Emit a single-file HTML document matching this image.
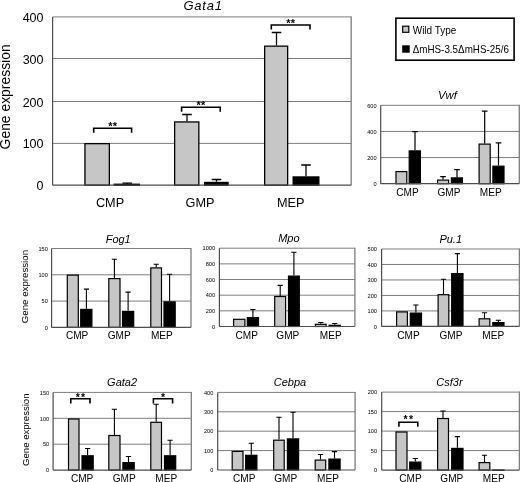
<!DOCTYPE html>
<html><head><meta charset="utf-8"><title>Gene expression</title>
<style>
html,body{margin:0;padding:0;background:#fff;}
body{width:520px;height:482px;overflow:hidden;}
svg{display:block;will-change:transform;font-family:'Liberation Sans', sans-serif;fill:#000;}
</style></head><body>
<svg width="520" height="482" viewBox="0 0 520 482">
<rect width="520" height="482" fill="#fff"/>
<line x1="52.6" y1="16.90" x2="351.2" y2="16.90" stroke="#7d7d7d" stroke-width="1"/>
<text x="43.5" y="21.90" font-size="12.5" text-anchor="end">400</text>
<line x1="52.6" y1="58.50" x2="351.2" y2="58.50" stroke="#7d7d7d" stroke-width="1"/>
<text x="43.5" y="63.50" font-size="12.5" text-anchor="end">300</text>
<line x1="52.6" y1="101.50" x2="351.2" y2="101.50" stroke="#7d7d7d" stroke-width="1"/>
<text x="43.5" y="106.50" font-size="12.5" text-anchor="end">200</text>
<line x1="52.6" y1="143.40" x2="351.2" y2="143.40" stroke="#7d7d7d" stroke-width="1"/>
<text x="43.5" y="148.40" font-size="12.5" text-anchor="end">100</text>
<text x="43.5" y="190.30" font-size="12.5" text-anchor="end">0</text>
<line x1="351.2" y1="16.5" x2="351.2" y2="185.2" stroke="#7d7d7d" stroke-width="1.3"/>
<rect x="84.95" y="143.65" width="24.40" height="41.55" fill="#c6c6c6" stroke="#000" stroke-width="1.3"/>
<rect x="114.25" y="184.25" width="25.10" height="0.95" fill="#000" stroke="#000" stroke-width="1.3"/>
<rect x="174.65" y="121.95" width="24.20" height="63.25" fill="#c6c6c6" stroke="#000" stroke-width="1.3"/>
<rect x="204.65" y="182.45" width="23.40" height="2.75" fill="#000" stroke="#000" stroke-width="1.3"/>
<rect x="264.65" y="46.15" width="23.00" height="139.05" fill="#c6c6c6" stroke="#000" stroke-width="1.3"/>
<rect x="293.15" y="176.95" width="25.70" height="8.25" fill="#000" stroke="#000" stroke-width="1.3"/>
<path d="M127.30 184.00V183.20M122.50 183.20H132.10" stroke="#000" stroke-width="1.3" fill="none"/>
<path d="M187.00 121.30V114.50M182.20 114.50H191.80" stroke="#000" stroke-width="1.3" fill="none"/>
<path d="M216.50 181.80V179.50M211.70 179.50H221.30" stroke="#000" stroke-width="1.3" fill="none"/>
<path d="M276.50 45.50V32.50M271.70 32.50H281.30" stroke="#000" stroke-width="1.3" fill="none"/>
<path d="M306.00 176.30V165.00M301.20 165.00H310.80" stroke="#000" stroke-width="1.3" fill="none"/>
<line x1="52.6" y1="17" x2="52.6" y2="185.2" stroke="#4d4d4d" stroke-width="1.2"/>
<line x1="52.6" y1="185.2" x2="351.2" y2="185.2" stroke="#4d4d4d" stroke-width="1.2"/>
<text x="203.1" y="9.7" font-size="13" font-style="italic" text-anchor="middle" letter-spacing="0.8">Gata1</text>
<text transform="translate(110,207) scale(1,1.03)" font-size="12.7" text-anchor="middle">CMP</text>
<text transform="translate(200,207) scale(1,1.03)" font-size="12.7" text-anchor="middle">GMP</text>
<text transform="translate(290.8,207) scale(1,1.03)" font-size="12.7" text-anchor="middle">MEP</text>
<path d="M93.70 132.80V128.30H131.60V132.80" stroke="#000" stroke-width="1.6" fill="none"/>
<text x="112.65" y="130.30" font-size="11" font-weight="bold" text-anchor="middle" letter-spacing="0">**</text>
<path d="M181.60 111.80V107.30H220.20V111.80" stroke="#000" stroke-width="1.6" fill="none"/>
<text x="200.90" y="109.30" font-size="11" font-weight="bold" text-anchor="middle" letter-spacing="0">**</text>
<path d="M271.30 29.50V25.00H310.00V29.50" stroke="#000" stroke-width="1.6" fill="none"/>
<text x="290.65" y="27.00" font-size="11" font-weight="bold" text-anchor="middle" letter-spacing="0">**</text>
<text transform="translate(10,149.4) rotate(-90)" font-size="13.9">Gene expression</text>
<rect x="395.9" y="18.2" width="118.2" height="42" fill="#fff" stroke="#000" stroke-width="1.6"/>
<rect x="402.7" y="26.2" width="6.1" height="6.1" fill="#c6c6c6" stroke="#000" stroke-width="1.2"/>
<rect x="402.2" y="45.3" width="7.5" height="7.4" fill="#000"/>
<text transform="translate(412.7,33.6) scale(1,1.12)" font-size="10">Wild Type</text>
<text transform="translate(412.7,53.0) scale(1,1.12)" font-size="10" textLength="96.2" lengthAdjust="spacingAndGlyphs">ΔmHS-3.5ΔmHS-25/6</text>
<line x1="380.7" y1="105.30" x2="519.3" y2="105.30" stroke="#7d7d7d" stroke-width="1"/>
<text x="376.6" y="107.54" font-size="5.6" text-anchor="end">600</text>
<line x1="380.7" y1="131.43" x2="519.3" y2="131.43" stroke="#7d7d7d" stroke-width="1"/>
<text x="376.6" y="133.67" font-size="5.6" text-anchor="end">400</text>
<line x1="380.7" y1="157.57" x2="519.3" y2="157.57" stroke="#7d7d7d" stroke-width="1"/>
<text x="376.6" y="159.81" font-size="5.6" text-anchor="end">200</text>
<text x="376.6" y="185.94" font-size="5.6" text-anchor="end">0</text>
<line x1="519.3" y1="104.8" x2="519.3" y2="183.7" stroke="#7d7d7d" stroke-width="1.3"/>
<rect x="396.00" y="171.60" width="10.80" height="12.10" fill="#c6c6c6" stroke="#000" stroke-width="1.2"/>
<rect x="409.20" y="150.90" width="11.20" height="32.80" fill="#000" stroke="#000" stroke-width="1.2"/>
<rect x="437.60" y="180.10" width="11.00" height="3.60" fill="#c6c6c6" stroke="#000" stroke-width="1.2"/>
<rect x="451.40" y="177.90" width="11.00" height="5.80" fill="#000" stroke="#000" stroke-width="1.2"/>
<rect x="479.10" y="144.10" width="11.10" height="39.60" fill="#c6c6c6" stroke="#000" stroke-width="1.2"/>
<rect x="492.90" y="166.20" width="11.10" height="17.50" fill="#000" stroke="#000" stroke-width="1.2"/>
<path d="M415.00 150.30V131.60M412.20 131.60H417.80" stroke="#000" stroke-width="1.2" fill="none"/>
<path d="M443.00 179.50V176.70M440.20 176.70H445.80" stroke="#000" stroke-width="1.2" fill="none"/>
<path d="M457.00 177.30V169.60M454.20 169.60H459.80" stroke="#000" stroke-width="1.2" fill="none"/>
<path d="M484.70 143.50V111.20M481.90 111.20H487.50" stroke="#000" stroke-width="1.2" fill="none"/>
<path d="M498.50 165.60V142.80M495.70 142.80H501.30" stroke="#000" stroke-width="1.2" fill="none"/>
<line x1="380.7" y1="105.3" x2="380.7" y2="183.7" stroke="#4d4d4d" stroke-width="1.2"/>
<line x1="380.7" y1="183.7" x2="519.3" y2="183.7" stroke="#4d4d4d" stroke-width="1.2"/>
<text x="447.5" y="98.8" font-size="11.3" font-style="italic" text-anchor="middle" letter-spacing="0">Vwf</text>
<text transform="translate(407.5,195.8) scale(1,1.13)" font-size="10.1" text-anchor="middle">CMP</text>
<text transform="translate(449,195.8) scale(1,1.13)" font-size="10.1" text-anchor="middle">GMP</text>
<text transform="translate(490.8,195.8) scale(1,1.13)" font-size="10.1" text-anchor="middle">MEP</text>
<line x1="51.6" y1="248.50" x2="191.0" y2="248.50" stroke="#7d7d7d" stroke-width="1"/>
<text x="47.800000000000004" y="250.74" font-size="5.6" text-anchor="end">150</text>
<line x1="51.6" y1="274.80" x2="191.0" y2="274.80" stroke="#7d7d7d" stroke-width="1"/>
<text x="47.800000000000004" y="277.04" font-size="5.6" text-anchor="end">100</text>
<line x1="51.6" y1="301.10" x2="191.0" y2="301.10" stroke="#7d7d7d" stroke-width="1"/>
<text x="47.800000000000004" y="303.34" font-size="5.6" text-anchor="end">50</text>
<text x="47.800000000000004" y="329.64" font-size="5.6" text-anchor="end">0</text>
<line x1="191.0" y1="248.0" x2="191.0" y2="327.4" stroke="#7d7d7d" stroke-width="1.3"/>
<rect x="67.30" y="275.10" width="11.00" height="52.30" fill="#c6c6c6" stroke="#000" stroke-width="1.2"/>
<rect x="80.70" y="309.40" width="11.20" height="18.00" fill="#000" stroke="#000" stroke-width="1.2"/>
<rect x="108.80" y="278.60" width="11.20" height="48.80" fill="#c6c6c6" stroke="#000" stroke-width="1.2"/>
<rect x="122.50" y="311.40" width="11.20" height="16.00" fill="#000" stroke="#000" stroke-width="1.2"/>
<rect x="150.80" y="267.90" width="10.70" height="59.50" fill="#c6c6c6" stroke="#000" stroke-width="1.2"/>
<rect x="164.00" y="301.90" width="11.20" height="25.50" fill="#000" stroke="#000" stroke-width="1.2"/>
<path d="M86.40 308.80V289.10M83.80 289.10H89.00" stroke="#000" stroke-width="1.1" fill="none"/>
<path d="M114.40 278.00V259.30M111.80 259.30H117.00" stroke="#000" stroke-width="1.1" fill="none"/>
<path d="M128.10 310.80V292.10M125.50 292.10H130.70" stroke="#000" stroke-width="1.1" fill="none"/>
<path d="M156.20 267.30V264.30M153.60 264.30H158.80" stroke="#000" stroke-width="1.1" fill="none"/>
<path d="M169.60 301.30V274.20M167.00 274.20H172.20" stroke="#000" stroke-width="1.1" fill="none"/>
<line x1="51.6" y1="248.5" x2="51.6" y2="327.4" stroke="#4d4d4d" stroke-width="1.2"/>
<line x1="51.6" y1="327.4" x2="191.0" y2="327.4" stroke="#4d4d4d" stroke-width="1.2"/>
<text x="118.2" y="242.9" font-size="11.0" font-style="italic" text-anchor="middle" letter-spacing="0">Fog1</text>
<text transform="translate(77.1,339.0) scale(1,1.13)" font-size="10.1" text-anchor="middle">CMP</text>
<text transform="translate(119.2,339.0) scale(1,1.13)" font-size="10.1" text-anchor="middle">GMP</text>
<text transform="translate(161.9,339.0) scale(1,1.13)" font-size="10.1" text-anchor="middle">MEP</text>
<text transform="translate(28.2,323.2) rotate(-90)" font-size="9.7">Gene expression</text>
<line x1="219.4" y1="248.20" x2="354.9" y2="248.20" stroke="#7d7d7d" stroke-width="1"/>
<text x="215.0" y="250.44" font-size="5.6" text-anchor="end">1000</text>
<line x1="219.4" y1="263.86" x2="354.9" y2="263.86" stroke="#7d7d7d" stroke-width="1"/>
<text x="215.0" y="266.10" font-size="5.6" text-anchor="end">800</text>
<line x1="219.4" y1="279.52" x2="354.9" y2="279.52" stroke="#7d7d7d" stroke-width="1"/>
<text x="215.0" y="281.76" font-size="5.6" text-anchor="end">600</text>
<line x1="219.4" y1="295.18" x2="354.9" y2="295.18" stroke="#7d7d7d" stroke-width="1"/>
<text x="215.0" y="297.42" font-size="5.6" text-anchor="end">400</text>
<line x1="219.4" y1="310.84" x2="354.9" y2="310.84" stroke="#7d7d7d" stroke-width="1"/>
<text x="215.0" y="313.08" font-size="5.6" text-anchor="end">200</text>
<text x="215.0" y="328.74" font-size="5.6" text-anchor="end">0</text>
<line x1="354.9" y1="247.7" x2="354.9" y2="326.5" stroke="#7d7d7d" stroke-width="1.3"/>
<rect x="233.60" y="319.30" width="11.30" height="7.20" fill="#c6c6c6" stroke="#000" stroke-width="1.2"/>
<rect x="247.30" y="317.60" width="11.20" height="8.90" fill="#000" stroke="#000" stroke-width="1.2"/>
<rect x="274.70" y="296.50" width="10.90" height="30.00" fill="#c6c6c6" stroke="#000" stroke-width="1.2"/>
<rect x="288.50" y="276.10" width="10.80" height="50.40" fill="#000" stroke="#000" stroke-width="1.2"/>
<rect x="315.40" y="324.30" width="10.70" height="2.20" fill="#c6c6c6" stroke="#000" stroke-width="1.2"/>
<rect x="329.10" y="325.30" width="11.20" height="1.20" fill="#000" stroke="#000" stroke-width="1.2"/>
<path d="M252.90 317.00V309.50M250.30 309.50H255.50" stroke="#000" stroke-width="1.1" fill="none"/>
<path d="M280.20 295.90V285.40M277.60 285.40H282.80" stroke="#000" stroke-width="1.1" fill="none"/>
<path d="M293.90 275.50V252.30M291.30 252.30H296.50" stroke="#000" stroke-width="1.1" fill="none"/>
<path d="M320.80 323.70V322.50M318.20 322.50H323.40" stroke="#000" stroke-width="1.1" fill="none"/>
<path d="M334.70 324.70V323.50M332.10 323.50H337.30" stroke="#000" stroke-width="1.1" fill="none"/>
<line x1="219.4" y1="248.2" x2="219.4" y2="326.5" stroke="#4d4d4d" stroke-width="1.2"/>
<line x1="219.4" y1="326.5" x2="354.9" y2="326.5" stroke="#4d4d4d" stroke-width="1.2"/>
<text x="288.9" y="241.9" font-size="11.0" font-style="italic" text-anchor="middle" letter-spacing="0">Mpo</text>
<text transform="translate(246.7,339.0) scale(1,1.13)" font-size="10.1" text-anchor="middle">CMP</text>
<text transform="translate(287.8,339.0) scale(1,1.13)" font-size="10.1" text-anchor="middle">GMP</text>
<text transform="translate(330.7,339.0) scale(1,1.13)" font-size="10.1" text-anchor="middle">MEP</text>
<line x1="381.6" y1="249.00" x2="519.4" y2="249.00" stroke="#7d7d7d" stroke-width="1"/>
<text x="376.90000000000003" y="251.24" font-size="5.6" text-anchor="end">500</text>
<line x1="381.6" y1="264.48" x2="519.4" y2="264.48" stroke="#7d7d7d" stroke-width="1"/>
<text x="376.90000000000003" y="266.72" font-size="5.6" text-anchor="end">400</text>
<line x1="381.6" y1="279.96" x2="519.4" y2="279.96" stroke="#7d7d7d" stroke-width="1"/>
<text x="376.90000000000003" y="282.20" font-size="5.6" text-anchor="end">300</text>
<line x1="381.6" y1="295.44" x2="519.4" y2="295.44" stroke="#7d7d7d" stroke-width="1"/>
<text x="376.90000000000003" y="297.68" font-size="5.6" text-anchor="end">200</text>
<line x1="381.6" y1="310.92" x2="519.4" y2="310.92" stroke="#7d7d7d" stroke-width="1"/>
<text x="376.90000000000003" y="313.16" font-size="5.6" text-anchor="end">100</text>
<text x="376.90000000000003" y="328.64" font-size="5.6" text-anchor="end">0</text>
<line x1="519.4" y1="248.5" x2="519.4" y2="326.4" stroke="#7d7d7d" stroke-width="1.3"/>
<rect x="396.60" y="311.90" width="10.80" height="14.50" fill="#c6c6c6" stroke="#000" stroke-width="1.2"/>
<rect x="410.30" y="313.10" width="11.20" height="13.30" fill="#000" stroke="#000" stroke-width="1.2"/>
<rect x="438.10" y="294.70" width="10.70" height="31.70" fill="#c6c6c6" stroke="#000" stroke-width="1.2"/>
<rect x="451.70" y="273.60" width="11.30" height="52.80" fill="#000" stroke="#000" stroke-width="1.2"/>
<rect x="479.10" y="318.80" width="10.70" height="7.60" fill="#c6c6c6" stroke="#000" stroke-width="1.2"/>
<rect x="492.80" y="322.60" width="11.20" height="3.80" fill="#000" stroke="#000" stroke-width="1.2"/>
<path d="M415.90 312.50V305.00M413.30 305.00H418.50" stroke="#000" stroke-width="1.1" fill="none"/>
<path d="M443.50 294.10V279.20M440.90 279.20H446.10" stroke="#000" stroke-width="1.1" fill="none"/>
<path d="M457.40 273.00V253.60M454.80 253.60H460.00" stroke="#000" stroke-width="1.1" fill="none"/>
<path d="M484.50 318.20V312.80M481.90 312.80H487.10" stroke="#000" stroke-width="1.1" fill="none"/>
<path d="M498.40 322.00V320.20M495.80 320.20H501.00" stroke="#000" stroke-width="1.1" fill="none"/>
<line x1="381.6" y1="249.0" x2="381.6" y2="326.4" stroke="#4d4d4d" stroke-width="1.2"/>
<line x1="381.6" y1="326.4" x2="519.4" y2="326.4" stroke="#4d4d4d" stroke-width="1.2"/>
<text x="450.7" y="243.2" font-size="11.0" font-style="italic" text-anchor="middle" letter-spacing="0">Pu.1</text>
<text transform="translate(408.5,339.0) scale(1,1.13)" font-size="10.1" text-anchor="middle">CMP</text>
<text transform="translate(451,339.0) scale(1,1.13)" font-size="10.1" text-anchor="middle">GMP</text>
<text transform="translate(493.3,339.0) scale(1,1.13)" font-size="10.1" text-anchor="middle">MEP</text>
<line x1="53.1" y1="392.40" x2="191.3" y2="392.40" stroke="#7d7d7d" stroke-width="1"/>
<text x="49.2" y="394.64" font-size="5.6" text-anchor="end">150</text>
<line x1="53.1" y1="418.30" x2="191.3" y2="418.30" stroke="#7d7d7d" stroke-width="1"/>
<text x="49.2" y="420.54" font-size="5.6" text-anchor="end">100</text>
<line x1="53.1" y1="444.20" x2="191.3" y2="444.20" stroke="#7d7d7d" stroke-width="1"/>
<text x="49.2" y="446.44" font-size="5.6" text-anchor="end">50</text>
<text x="49.2" y="472.34" font-size="5.6" text-anchor="end">0</text>
<line x1="191.3" y1="391.9" x2="191.3" y2="470.1" stroke="#7d7d7d" stroke-width="1.3"/>
<rect x="68.50" y="419.00" width="10.50" height="51.10" fill="#c6c6c6" stroke="#000" stroke-width="1.2"/>
<rect x="82.00" y="455.80" width="11.20" height="14.30" fill="#000" stroke="#000" stroke-width="1.2"/>
<rect x="108.80" y="435.50" width="11.20" height="34.60" fill="#c6c6c6" stroke="#000" stroke-width="1.2"/>
<rect x="122.90" y="462.60" width="11.30" height="7.50" fill="#000" stroke="#000" stroke-width="1.2"/>
<rect x="150.80" y="422.30" width="10.70" height="47.80" fill="#c6c6c6" stroke="#000" stroke-width="1.2"/>
<rect x="164.50" y="455.80" width="11.20" height="14.30" fill="#000" stroke="#000" stroke-width="1.2"/>
<path d="M87.60 455.20V448.50M85.00 448.50H90.20" stroke="#000" stroke-width="1.1" fill="none"/>
<path d="M114.40 434.90V409.20M111.80 409.20H117.00" stroke="#000" stroke-width="1.1" fill="none"/>
<path d="M128.50 462.00V456.50M125.90 456.50H131.10" stroke="#000" stroke-width="1.1" fill="none"/>
<path d="M156.20 421.70V404.30M153.60 404.30H158.80" stroke="#000" stroke-width="1.1" fill="none"/>
<path d="M170.10 455.20V440.30M167.50 440.30H172.70" stroke="#000" stroke-width="1.1" fill="none"/>
<line x1="53.1" y1="392.4" x2="53.1" y2="470.1" stroke="#4d4d4d" stroke-width="1.2"/>
<line x1="53.1" y1="470.1" x2="191.3" y2="470.1" stroke="#4d4d4d" stroke-width="1.2"/>
<text x="122.1" y="386.4" font-size="11.0" font-style="italic" text-anchor="middle" letter-spacing="0">Gata2</text>
<text transform="translate(82.1,482.1) scale(1,1.13)" font-size="10.1" text-anchor="middle">CMP</text>
<text transform="translate(124.2,482.1) scale(1,1.13)" font-size="10.1" text-anchor="middle">GMP</text>
<text transform="translate(166.2,482.1) scale(1,1.13)" font-size="10.1" text-anchor="middle">MEP</text>
<path d="M70.80 403.40V398.80H90.00V403.40" stroke="#000" stroke-width="1.6" fill="none"/>
<text x="81.05" y="400.90" font-size="10.5" font-weight="bold" text-anchor="middle" letter-spacing="1.3">**</text>
<path d="M153.40 403.40V398.80H172.60V403.40" stroke="#000" stroke-width="1.6" fill="none"/>
<text x="163.00" y="400.90" font-size="10.5" font-weight="bold" text-anchor="middle" letter-spacing="0">*</text>
<text transform="translate(29,466) rotate(-90)" font-size="9.6">Gene expression</text>
<line x1="217.7" y1="392.40" x2="355.1" y2="392.40" stroke="#7d7d7d" stroke-width="1"/>
<text x="213.29999999999998" y="394.64" font-size="5.6" text-anchor="end">400</text>
<line x1="217.7" y1="411.80" x2="355.1" y2="411.80" stroke="#7d7d7d" stroke-width="1"/>
<text x="213.29999999999998" y="414.04" font-size="5.6" text-anchor="end">300</text>
<line x1="217.7" y1="431.20" x2="355.1" y2="431.20" stroke="#7d7d7d" stroke-width="1"/>
<text x="213.29999999999998" y="433.44" font-size="5.6" text-anchor="end">200</text>
<line x1="217.7" y1="450.60" x2="355.1" y2="450.60" stroke="#7d7d7d" stroke-width="1"/>
<text x="213.29999999999998" y="452.84" font-size="5.6" text-anchor="end">100</text>
<text x="213.29999999999998" y="472.24" font-size="5.6" text-anchor="end">0</text>
<line x1="355.1" y1="391.9" x2="355.1" y2="470.0" stroke="#7d7d7d" stroke-width="1.3"/>
<rect x="232.20" y="451.40" width="10.80" height="18.60" fill="#c6c6c6" stroke="#000" stroke-width="1.2"/>
<rect x="245.70" y="455.30" width="11.20" height="14.70" fill="#000" stroke="#000" stroke-width="1.2"/>
<rect x="273.70" y="440.20" width="10.50" height="29.80" fill="#c6c6c6" stroke="#000" stroke-width="1.2"/>
<rect x="287.40" y="438.90" width="11.20" height="31.10" fill="#000" stroke="#000" stroke-width="1.2"/>
<rect x="315.20" y="460.10" width="10.50" height="9.90" fill="#c6c6c6" stroke="#000" stroke-width="1.2"/>
<rect x="328.90" y="459.10" width="11.20" height="10.90" fill="#000" stroke="#000" stroke-width="1.2"/>
<path d="M251.30 454.70V443.30M248.70 443.30H253.90" stroke="#000" stroke-width="1.1" fill="none"/>
<path d="M279.00 439.60V417.20M276.40 417.20H281.60" stroke="#000" stroke-width="1.1" fill="none"/>
<path d="M293.00 438.30V412.20M290.40 412.20H295.60" stroke="#000" stroke-width="1.1" fill="none"/>
<path d="M320.50 459.50V454.50M317.90 454.50H323.10" stroke="#000" stroke-width="1.1" fill="none"/>
<path d="M334.50 458.50V451.60M331.90 451.60H337.10" stroke="#000" stroke-width="1.1" fill="none"/>
<line x1="217.7" y1="392.4" x2="217.7" y2="470.0" stroke="#4d4d4d" stroke-width="1.2"/>
<line x1="217.7" y1="470.0" x2="355.1" y2="470.0" stroke="#4d4d4d" stroke-width="1.2"/>
<text x="290" y="386.1" font-size="11.0" font-style="italic" text-anchor="middle" letter-spacing="0">Cebpa</text>
<text transform="translate(244.3,482.1) scale(1,1.13)" font-size="10.1" text-anchor="middle">CMP</text>
<text transform="translate(285.7,482.1) scale(1,1.13)" font-size="10.1" text-anchor="middle">GMP</text>
<text transform="translate(328,482.1) scale(1,1.13)" font-size="10.1" text-anchor="middle">MEP</text>
<line x1="381.7" y1="392.10" x2="519.4" y2="392.10" stroke="#7d7d7d" stroke-width="1"/>
<text x="377.09999999999997" y="394.34" font-size="5.6" text-anchor="end">200</text>
<line x1="381.7" y1="411.60" x2="519.4" y2="411.60" stroke="#7d7d7d" stroke-width="1"/>
<text x="377.09999999999997" y="413.84" font-size="5.6" text-anchor="end">150</text>
<line x1="381.7" y1="431.10" x2="519.4" y2="431.10" stroke="#7d7d7d" stroke-width="1"/>
<text x="377.09999999999997" y="433.34" font-size="5.6" text-anchor="end">100</text>
<line x1="381.7" y1="450.60" x2="519.4" y2="450.60" stroke="#7d7d7d" stroke-width="1"/>
<text x="377.09999999999997" y="452.84" font-size="5.6" text-anchor="end">50</text>
<text x="377.09999999999997" y="472.34" font-size="5.6" text-anchor="end">0</text>
<line x1="519.4" y1="391.6" x2="519.4" y2="470.1" stroke="#7d7d7d" stroke-width="1.3"/>
<rect x="396.00" y="432.00" width="11.00" height="38.10" fill="#c6c6c6" stroke="#000" stroke-width="1.2"/>
<rect x="409.70" y="462.10" width="11.20" height="8.00" fill="#000" stroke="#000" stroke-width="1.2"/>
<rect x="437.60" y="418.50" width="10.90" height="51.60" fill="#c6c6c6" stroke="#000" stroke-width="1.2"/>
<rect x="451.70" y="448.40" width="11.30" height="21.70" fill="#000" stroke="#000" stroke-width="1.2"/>
<rect x="479.10" y="462.60" width="10.70" height="7.50" fill="#c6c6c6" stroke="#000" stroke-width="1.2"/>
<rect x="492.80" y="470.00" width="11.20" height="0.40" fill="#000" stroke="#000" stroke-width="1.2"/>
<path d="M415.30 461.50V458.50M412.70 458.50H417.90" stroke="#000" stroke-width="1.1" fill="none"/>
<path d="M443.00 417.90V411.00M440.40 411.00H445.60" stroke="#000" stroke-width="1.1" fill="none"/>
<path d="M457.40 447.80V436.60M454.80 436.60H460.00" stroke="#000" stroke-width="1.1" fill="none"/>
<path d="M484.50 462.00V455.20M481.90 455.20H487.10" stroke="#000" stroke-width="1.1" fill="none"/>
<line x1="381.7" y1="392.1" x2="381.7" y2="470.1" stroke="#4d4d4d" stroke-width="1.2"/>
<line x1="381.7" y1="470.1" x2="519.4" y2="470.1" stroke="#4d4d4d" stroke-width="1.2"/>
<text x="449.5" y="385.6" font-size="11.0" font-style="italic" text-anchor="middle" letter-spacing="0">Csf3r</text>
<text transform="translate(410.5,482.1) scale(1,1.13)" font-size="10.1" text-anchor="middle">CMP</text>
<text transform="translate(451.8,482.1) scale(1,1.13)" font-size="10.1" text-anchor="middle">GMP</text>
<text transform="translate(493.8,482.1) scale(1,1.13)" font-size="10.1" text-anchor="middle">MEP</text>
<path d="M398.90 426.70V422.30H417.80V426.70" stroke="#000" stroke-width="1.6" fill="none"/>
<text x="409.00" y="422.90" font-size="10.5" font-weight="bold" text-anchor="middle" letter-spacing="1.3">**</text>
</svg>
</body></html>
